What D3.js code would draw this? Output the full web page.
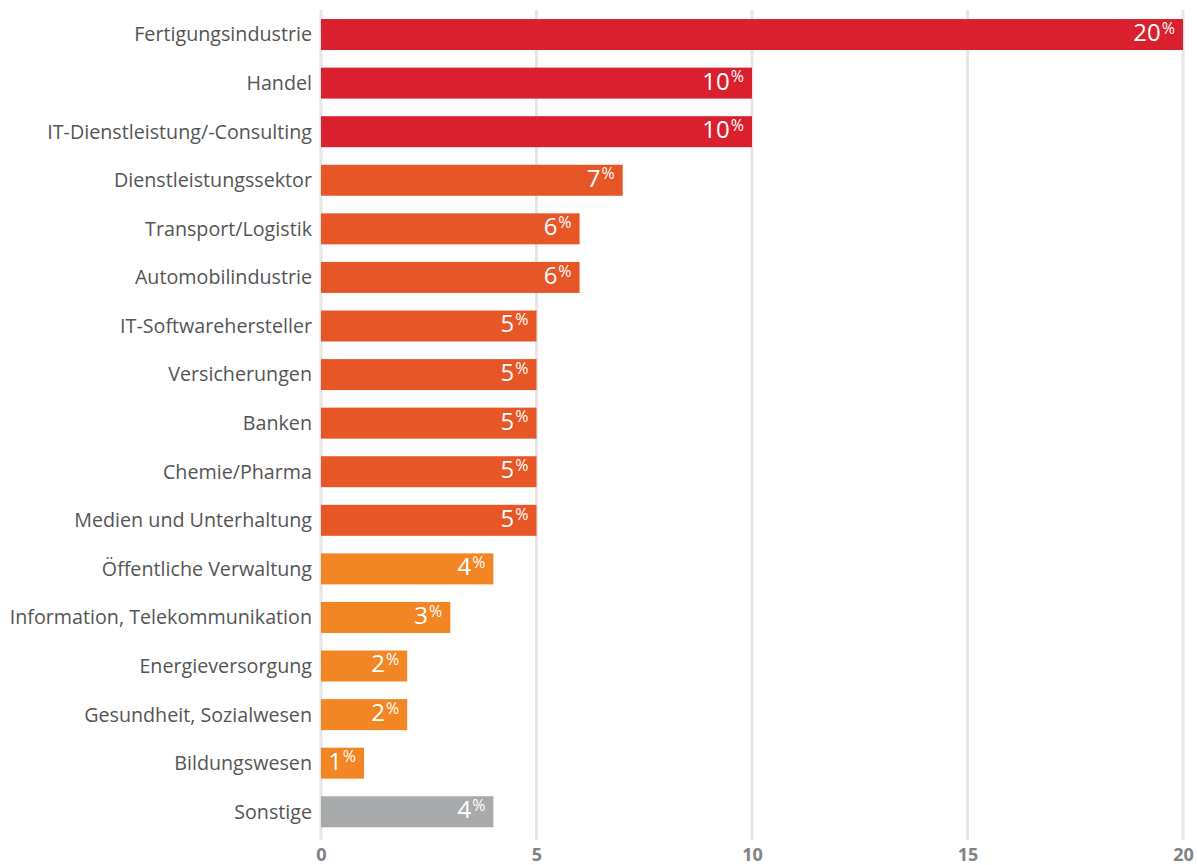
<!DOCTYPE html>
<html>
<head>
<meta charset="utf-8">
<script src="https://cdn.jsdelivr.net/npm/d3@7"></script>
<style>
  html, body { margin: 0; padding: 0; background: #fff; }
  svg { display: block; }
</style>
</head>
<body>
<svg id="chart" width="1197" height="865"></svg>
<script>
// Branchen und Anteile (Prozent)
const categories = [
  "Fertigungsindustrie", "Handel", "IT-Dienstleistung/-Consulting",
  "Dienstleistungssektor", "Transport/Logistik", "Automobilindustrie",
  "IT-Softwarehersteller", "Versicherungen", "Banken", "Chemie/Pharma",
  "Medien und Unterhaltung", "Öffentliche Verwaltung",
  "Information, Telekommunikation", "Energieversorgung",
  "Gesundheit, Sozialwesen", "Bildungswesen", "Sonstige"
];
const values = [20, 10, 10, 7, 6, 6, 5, 5, 5, 5, 5, 4, 3, 2, 2, 1, 4];
const groups = ["top", "top", "top", "mid", "mid", "mid", "mid", "mid", "mid", "mid", "mid",
                "low", "low", "low", "low", "low", "other"];
const tickValues = [0, 5, 10, 15, 20];

const groupColor = { top: "#da202f", mid: "#e75627", low: "#f28624", other: "#a9aaac" };

const svg = d3.select("#chart");
const font = "'Open Sans', 'Noto Sans', sans-serif";

const x = d3.scaleLinear().domain([0, 20]).range([321, 1183]);
const y = d3.scaleBand().domain(categories).range([10.3, 836]).paddingInner(0.362).paddingOuter(0.18);

// Gitterlinien
svg.append("g").selectAll("line").data(tickValues).join("line")
  .attr("x1", d => x(d)).attr("x2", d => x(d))
  .attr("y1", 10).attr("y2", 840)
  .attr("stroke", "#e6e6e7").attr("stroke-width", 3);

// Balken
svg.append("g").selectAll("rect").data(categories).join("rect")
  .attr("x", x(0))
  .attr("y", d => y(d))
  .attr("width", (d, i) => x(values[i]) - x(0))
  .attr("height", y.bandwidth())
  .attr("fill", (d, i) => groupColor[groups[i]]);

// Kategorien links
svg.append("g").selectAll("text").data(categories).join("text")
  .attr("x", 312)
  .attr("y", d => y(d) + y.bandwidth() / 2)
  .attr("dy", "0.35em")
  .attr("text-anchor", "end")
  .attr("font-family", font)
  .attr("font-size", 19.7)
  .attr("fill", "#555")
  .text(d => d);

// Werte im Balken
const lbl = svg.append("g").selectAll("text").data(categories).join("text")
  .attr("x", (d, i) => x(values[i]) - 8)
  .attr("y", d => y(d) + y.bandwidth() / 2)
  .attr("dy", "0.4em")
  .attr("text-anchor", "end")
  .attr("font-family", font)
  .attr("fill", "#fff");
lbl.append("tspan").attr("font-size", 24).text((d, i) => values[i]);
lbl.append("tspan").attr("font-size", 16).attr("dx", 1).attr("dy", "-0.45em").text("%");

// x-Achse
const axis = d3.axisBottom(x).tickValues(tickValues).tickSize(0).tickPadding(0).tickFormat(d3.format("d"));
const gx = svg.append("g").attr("transform", "translate(0,848)").call(axis);
gx.select(".domain").remove();
gx.selectAll("text")
  .attr("font-family", font)
  .attr("font-size", 18)
  .attr("font-weight", "bold")
  .attr("fill", "#808285")
  .attr("dy", "0.71em")
  .attr("y", 0);
</script>
</body>
</html>
